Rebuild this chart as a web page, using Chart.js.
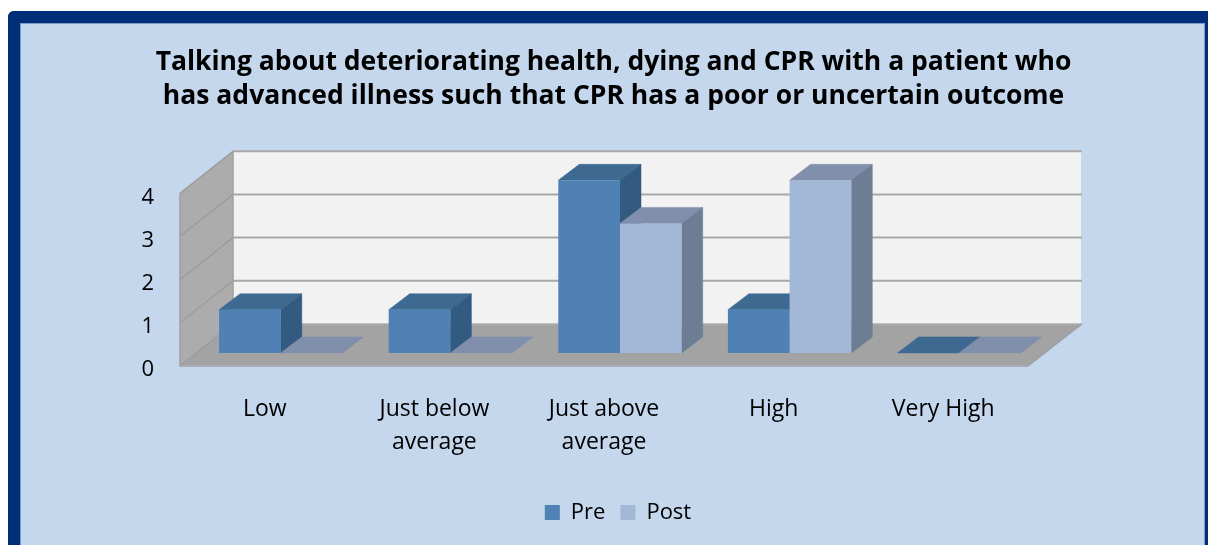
<!DOCTYPE html>
<html><head><meta charset="utf-8">
<style>
html,body{margin:0;padding:0;background:#fff;overflow:hidden}
#frame{position:absolute;left:8px;top:11px;width:1185px;height:522px;border:12px solid #002e78;border-bottom:12px solid #c5d7ec;background:#c5d7ec;border-radius:6px 6px 0 0;box-sizing:content-box;box-shadow:inset 1px 1px 0 #7f9cc8,inset -1px 0 0 #7f9cc8}
#wrap{position:absolute;left:0;top:0;width:1208px;height:545px}
</style>
<script src="https://cdn.jsdelivr.net/npm/chart.js@4"></script>
</head><body>
<div id="frame"></div>
<div id="wrap"><canvas id="c" width="1208" height="545"></canvas></div>
<script>
const categories = ['Low', ['Just below','average'], ['Just above','average'], 'High', 'Very High'];
const preValues  = [1, 1, 4, 1, 0];
const postValues = [0, 0, 3, 4, 0];
const yTicks = [0, 1, 2, 3, 4];
const titleLines = ['Talking about deteriorating health, dying and CPR with a patient who',
                    'has advanced illness such that CPR has a poor or uncertain outcome'];

const FONT = '"Open Sans", sans-serif';
const faces = [
  {top:'#3e6a92', side:'#335a80'},
  {top:'#808fab', side:'#6c7d95'}
];
const BAR = {dx:21, dy:-16};
const FRONT = {dx:-16, dy:13};
const BACK = {dx:37, dy:-29};

function poly(ctx, pts, fill, stroke, lw){
  ctx.beginPath();
  pts.forEach((p,i)=> i?ctx.lineTo(p[0],p[1]):ctx.moveTo(p[0],p[1]));
  ctx.closePath();
  if(fill){ctx.fillStyle=fill;ctx.fill();}
  if(stroke){ctx.strokeStyle=stroke;ctx.lineWidth=lw||1;ctx.stroke();}
}
function line(ctx,a,b,c,w){ctx.beginPath();ctx.moveTo(a[0],a[1]);ctx.lineTo(b[0],b[1]);ctx.strokeStyle=c;ctx.lineWidth=w;ctx.stroke();}
function drawFaces(ctx, meta, f){
  meta.data.forEach(b=>{
    const l=b.x-b.width/2, r=b.x+b.width/2, t=b.y, bs=b.base;
    poly(ctx,[[l,t],[r,t],[r+BAR.dx,t+BAR.dy],[l+BAR.dx,t+BAR.dy]],f.top,f.top,0.5);
    if(bs-t>0) poly(ctx,[[r,t],[r+BAR.dx,t+BAR.dy],[r+BAR.dx,bs+BAR.dy],[r,bs]],f.side,f.side,0.5);
  });
}

const box3d = {
  id:'box3d',
  afterLayout(chart){
    chart.legend.left += 4.5; chart.legend.right += 4.5;
  },
  beforeDatasetsDraw(chart){
    const {ctx,chartArea:a,scales:{y}} = chart;
    const L=a.left,R=a.right,T=y.getPixelForValue(4),B=y.getPixelForValue(0);
    ctx.save();
    poly(ctx,[[L+BACK.dx,T+BACK.dy],[R+BACK.dx,T+BACK.dy],[R+BACK.dx,B+BACK.dy],[L+BACK.dx,B+BACK.dy]],'#f2f2f2');
    poly(ctx,[[L+FRONT.dx,T+FRONT.dy],[L+BACK.dx,T+BACK.dy],[L+BACK.dx,B+BACK.dy],[L+FRONT.dx,B+FRONT.dy]],'#acacac');
    poly(ctx,[[L+FRONT.dx,B+FRONT.dy],[R+FRONT.dx,B+FRONT.dy],[R+BACK.dx,B+BACK.dy],[L+BACK.dx,B+BACK.dy]],'#a3a3a3');
    yTicks.forEach(v=>{
      const p=y.getPixelForValue(v);
      if(v>0) line(ctx,[L+BACK.dx,p+BACK.dy],[R+BACK.dx+1,p+BACK.dy],'#a8a8a8',2);
      line(ctx,[L+FRONT.dx,p+FRONT.dy],[L+BACK.dx,p+BACK.dy],'#9d9d9d',1.5);
    });
    line(ctx,[L+BACK.dx,T+BACK.dy],[L+BACK.dx,B+BACK.dy],'#a0a0a0',1.5);
    line(ctx,[L+FRONT.dx,T+FRONT.dy],[L+FRONT.dx,B+FRONT.dy],'#a0a0a0',1.5);
    line(ctx,[L+BACK.dx,B+BACK.dy],[R+BACK.dx+1,B+BACK.dy],'#b0b0b0',1.2);
    line(ctx,[L+FRONT.dx-1,B+FRONT.dy],[R+FRONT.dx,B+FRONT.dy],'#a6adb5',2);
    line(ctx,[R+FRONT.dx,B+FRONT.dy],[R+BACK.dx+1,B+BACK.dy],'#9aa0a5',1.4);
    ctx.restore();
  },
  beforeDatasetDraw(chart,args){
    if(args.index===1) return false;      // Post sits in front of Pre: drawn after it
    chart.ctx.save();
    drawFaces(chart.ctx,args.meta,faces[0]);
    chart.ctx.restore();
  },
  afterDatasetsDraw(chart){
    const ctx=chart.ctx, meta=chart.getDatasetMeta(1);
    ctx.save();
    drawFaces(ctx,meta,faces[1]);
    meta.data.forEach(b=>b.draw(ctx));
    ctx.restore();
  }
};

new Chart(document.getElementById('c'),{
  type:'bar',
  data:{labels:categories,datasets:[
    {label:'Pre',data:preValues,backgroundColor:'#4f81b5',categoryPercentage:0.7276,barPercentage:1},
    {label:'Post',data:postValues,backgroundColor:'#a3b7d7',categoryPercentage:0.7276,barPercentage:1}
  ]},
  plugins:[box3d],
  options:{
    responsive:false,animation:false,
    layout:{padding:{left:19,right:0,top:0,bottom:11.5}},
    plugins:{
      tooltip:{enabled:false},
      title:{display:true,text:titleLines,color:'#000',
        font:{family:FONT,size:26.5,weight:'bold',lineHeight:'34px'},
        padding:{top:45,bottom:67.3}},
      legend:{position:'bottom',labels:{boxWidth:15,boxHeight:15,padding:15,color:'#000',font:{family:FONT,size:22}}}
    },
    scales:{
      x:{offset:true,grid:{display:false},border:{display:false},
        afterFit(s){s.height=133.6;},
        ticks:{color:'#000',font:{family:FONT,size:23,lineHeight:'33px'},padding:32,labelOffset:-16,autoSkip:false,maxRotation:0,minRotation:0}},
      y:{min:0,max:4,afterFit(s){s.width=177;},grid:{display:false,drawTicks:false},border:{display:false},
        afterBuildTicks(s){s.ticks=yTicks.map(v=>({value:v}));},
        ticks:{color:'#000',font:{family:FONT,size:22},padding:42,labelOffset:17}},
      pad:{position:'right',display:true,min:0,max:1,grid:{display:false,drawTicks:false},border:{display:false},
        ticks:{display:false},afterFit(s){s.width=164;}}
    }
  }
});
</script>
</body></html>
